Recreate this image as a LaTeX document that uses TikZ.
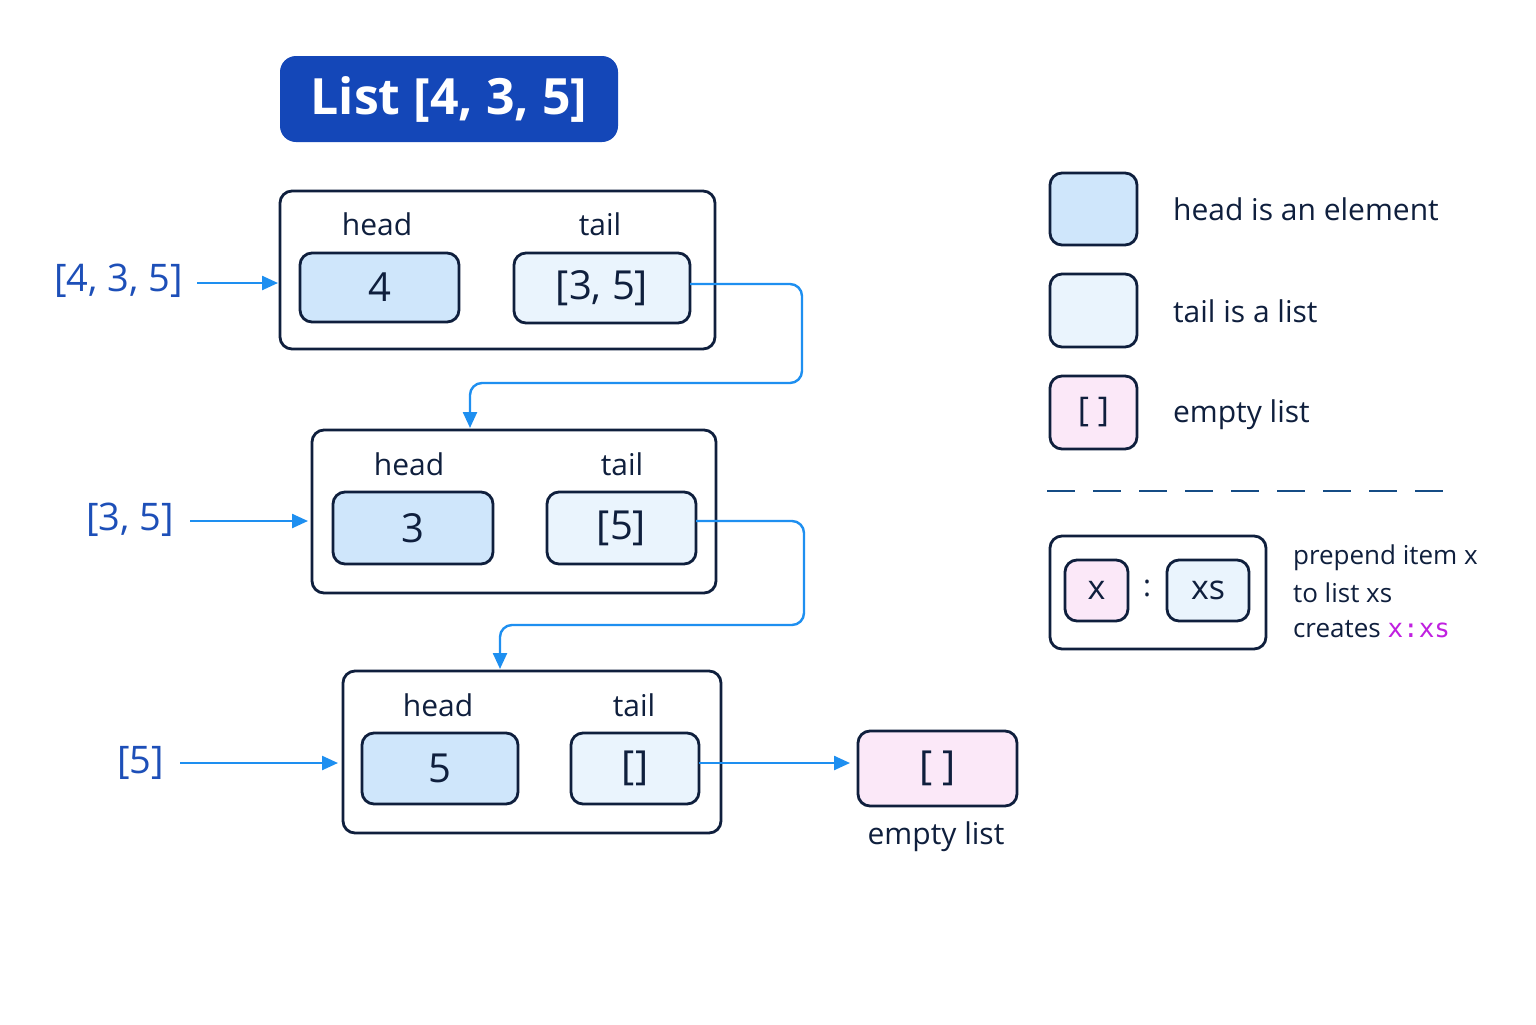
\documentclass[tikz,border=0pt]{standalone}
\usepackage{fontspec}
\setmainfont{Open Sans}
\setmonofont{DejaVu Sans Mono}
\usetikzlibrary{arrows.meta,positioning}
\definecolor{navy}{HTML}{0F1F3D}
\definecolor{hfill}{HTML}{CFE6FB}
\definecolor{tfill}{HTML}{EAF4FD}
\definecolor{efill}{HTML}{FBE8F8}
\definecolor{arr}{HTML}{1E8FF0}
\definecolor{lblue}{HTML}{1D4FB8}
\definecolor{tbg}{HTML}{1447B8}
\definecolor{mag}{HTML}{C020E0}
\tikzset{
 outer/.style={draw=navy,line width=1.4pt,rounded corners=6pt,fill=white},
 cell/.style={draw=navy,line width=1.4pt,rounded corners=6pt},
 hcell/.style={cell,fill=hfill},
 tcell/.style={cell,fill=tfill},
 ecell/.style={cell,fill=efill},
 conn/.style={draw=arr,line width=1.2pt,-{Triangle[length=8pt,width=7pt]},rounded corners=6pt},
 big/.style={font=\fontsize{20}{24}\selectfont,text=navy},
 lab/.style={font=\fontsize{15}{18}\selectfont,text=navy},
 side/.style={font=\fontsize{19}{22}\selectfont,text=lblue},
}
\begin{document}
\begin{tikzpicture}[x=0.5pt,y=-0.5pt]
\useasboundingbox[fill=white] (0,0) rectangle (1536,1024);
% title
\fill[tbg,rounded corners=8pt] (280,56) rectangle (618,142);
\node[text=white,font=\bfseries\fontsize{25}{30}\selectfont] (title) at (449,99) {List [4, 3, 5]};
% box 1
\draw[outer] (280,191) rectangle (715,349);
\node[lab] (h1) at (377,224) {head};
\node[lab] (t1) at (600,224) {tail};
\draw[hcell] (300,253) rectangle (459,322); \node[big] (c1) at (379.5,287.5) {4};
\draw[tcell] (514,253) rectangle (690,323); \node[big] (d1) at (602,288) {[3, 5]};
\coordinate (d1e) at (690,284);
% box 2
\draw[outer] (312,430) rectangle (716,593);
\node[lab] (h2) at (409,464) {head};
\node[lab] (t2) at (622,464) {tail};
\draw[hcell] (333,492) rectangle (493,564); \node[big] (c2) at (413,528) {3};
\draw[tcell] (547,492) rectangle (696,564); \node[big] (d2) at (621.5,528) {[5]};
\coordinate (d2e) at (696,521);
\coordinate (b2t) at (470,428);
% box 3
\draw[outer] (343,671) rectangle (721,833);
\node[lab] (h3) at (438,705) {head};
\node[lab] (t3) at (634,705) {tail};
\draw[hcell] (362,733) rectangle (518,804); \node[big] (c3) at (440,768.5) {5};
\draw[tcell] (571,733) rectangle (699,804); \node[big] (d3) at (635,768.5) {[]};
\coordinate (d3e) at (699,763);
\coordinate (b3t) at (500,669);
% empty
\draw[ecell] (858,731) rectangle (1017,806); \node[big] (e) at (937.5,768.5) {[ ]};
\coordinate (ew) at (850,763);
\node[lab] (el) at (936,837) {empty list};
% side labels
\node[side,anchor=east] (s1) at (190,281) {[4, 3, 5]};
\node[side,anchor=east] (s2) at (181,520) {[3, 5]};
\node[side,anchor=east] (s3) at (171,763) {[5]};
\coordinate (b1w) at (278,283);
\coordinate (b2w) at (308,521);
\coordinate (b3w) at (338,763);
\draw[conn] (s1.east)++(7,2) -- (b1w);
\draw[conn] (s2.east)++(9,1) -- (b2w);
\draw[conn] (s3.east)++(9,0) -- (b3w);
% connectors
\draw[conn] (d1e) -- (802,284) -- (802,383) -- (470,383) -- (b2t);
\draw[conn] (d2e) -- (804,521) -- (804,625) -- (500,625) -- (b3t);
\draw[conn] (d3e) -- (ew);
% legend
\draw[hcell] (1050,173) rectangle (1137,245);
\node[lab,anchor=west] (l1) at (1166,209) {head is an element};
\draw[tcell] (1050,274) rectangle (1137,347);
\node[lab,anchor=west] (l2) at (1166,311) {tail is a list};
\draw[ecell] (1050,376) rectangle (1137,449);
\node[lab] (l3e) at (1093.5,412.5) {\fontsize{17}{20}\selectfont[ ]};
\node[lab,anchor=west] (l3) at (1166,415) {empty list};
\draw[navy!60!arr,line width=1pt,dash pattern=on 14pt off 9pt] (1047,491) -- (1460,491);
\draw[outer] (1050,536) rectangle (1266,649);
\draw[ecell] (1065,560) rectangle (1128,621); \node[lab] (x) at (1096.5,590.5) {\fontsize{17}{20}\selectfont x};
\node[lab] (colon) at (1147,588) {:};
\draw[tcell] (1167,560) rectangle (1249,621); \node[lab] (xs) at (1208,590.5) {\fontsize{17}{20}\selectfont xs};
\node[lab,anchor=west,font=\fontsize{13}{16}\selectfont] (p1) at (1286,558) {prepend item x};
\node[lab,anchor=west,font=\fontsize{13}{16}\selectfont] (p2) at (1286,593) {to list xs};
\node[lab,anchor=west,font=\fontsize{13}{16}\selectfont] (p3) at (1286,629) {creates \textcolor{mag}{\texttt{x:xs}}};
\end{tikzpicture}
\end{document}
